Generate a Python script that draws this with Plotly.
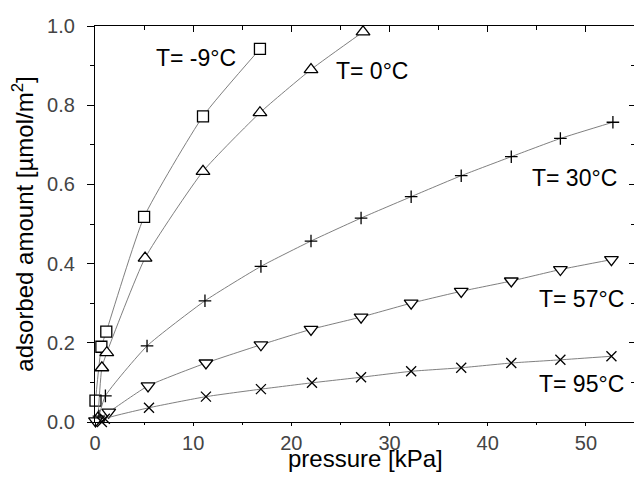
import plotly.graph_objects as go

# ---- data ----
p_m9 = [0.05, 0.65, 1.15, 5.0, 11.0, 16.8]
a_m9 = [0.054, 0.19, 0.228, 0.518, 0.772, 0.942]

p_0 = [0.3, 0.7, 1.2, 5.1, 11.0, 16.8, 22.0, 27.3]
a_0 = [0.01, 0.137, 0.175, 0.414, 0.633, 0.781, 0.89, 0.985]

p_30 = [0.4, 1.06, 5.3, 11.2, 16.9, 22.0, 27.1, 32.2, 37.3, 42.4, 47.4, 52.75]
a_30 = [0.015, 0.066, 0.192, 0.306, 0.393, 0.457, 0.515, 0.569, 0.622, 0.670, 0.716, 0.757]

p_57 = [0.05, 1.4, 5.4, 11.3, 16.9, 22.0, 27.1, 32.2, 37.3, 42.4, 47.4, 52.6]
a_57 = [0.003, 0.025, 0.091, 0.149, 0.195, 0.234, 0.265, 0.300, 0.330, 0.356, 0.385, 0.410]

p_95 = [0.7, 1.0, 5.5, 11.3, 16.9, 22.1, 27.1, 32.2, 37.3, 42.4, 47.4, 52.6]
a_95 = [0.0, 0.008, 0.036, 0.064, 0.083, 0.099, 0.113, 0.128, 0.137, 0.149, 0.157, 0.166]

series = [
    ("T= -9°C", p_m9, a_m9, "square", "white", 11),
    ("T= 0°C", p_0, a_0, "triangle-up", "white", 12),
    ("T= 30°C", p_30, a_30, "cross-thin-open", "black", 9),
    ("T= 57°C", p_57, a_57, "triangle-down", "white", 12),
    ("T= 95°C", p_95, a_95, "x-thin-open", "black", 10),
]

labels = ["T= -9°C", "T= 0°C", "T= 30°C", "T= 57°C", "T= 95°C"]
label_x = [10.3, 28.2, 48.85, 49.5, 49.5]
label_y = [0.918, 0.886, 0.617, 0.31, 0.095]

x_title = "pressure [kPa]"
y_title = "adsorbed amount [µmol/m<sup>2</sup>]"

FONT = "Liberation Sans, Arial, sans-serif"
TICKFONT = "Liberation Sans Narrow, Arial Narrow, Liberation Sans, sans-serif"

fig = go.Figure()
for name, xs, ys, sym, fill, sz in series:
    fig.add_trace(go.Scatter(
        x=xs, y=ys, mode="lines+markers", name=name,
        line=dict(color="#707070", width=0.9, shape="spline", smoothing=0.5),
        marker=dict(symbol=sym, size=sz, color=fill,
                    line=dict(color="black", width=1.3)),
        cliponaxis=False, showlegend=False,
    ))

# invisible trace so the mirrored (top/right) axes are drawn
fig.add_trace(go.Scatter(x=p_m9[:1], y=a_m9[:1], xaxis="x2", yaxis="y2",
                         mode="markers", marker=dict(opacity=0),
                         showlegend=False, hoverinfo="skip"))

for t, xx, yy in zip(labels, label_x, label_y):
    fig.add_annotation(x=xx, y=yy, xref="x", yref="y", text=t,
                       showarrow=False,
                       font=dict(family=FONT, size=23, color="black"))

# x-axis title placed as an annotation just below the tick labels
fig.add_annotation(x=0.5, y=0, xref="paper", yref="paper", text=x_title,
                   showarrow=False, xanchor="center", yanchor="top",
                   yshift=-21, font=dict(family=FONT, size=24, color="black"))

axis_common = dict(showline=True, linecolor="black", linewidth=1.2,
                   showgrid=False, zeroline=False,
                   tickwidth=1, tickcolor="black")

# page body has an 8px margin, so the figure is sized to fit the window
fig.update_layout(
    width=634, height=478,
    margin=dict(l=87, r=7, t=11, b=64),
    paper_bgcolor="white", plot_bgcolor="white",
    font=dict(family=FONT, color="black"),
    xaxis=dict(range=[0, 55], dtick=10, tick0=0, ticks="outside",
               ticklen=3,
               minor=dict(dtick=5, ticks="outside", ticklen=2,
                          tickcolor="black"),
               tickfont=dict(family=TICKFONT, size=20, color="#444"),
               automargin=False,
               **axis_common),
    yaxis=dict(range=[0, 1.0], dtick=0.2, tick0=0, ticks="outside",
               ticklen=7, tickformat=".1f",
               minor=dict(dtick=0.1, ticks="outside", ticklen=4,
                          tickcolor="black"),
               tickfont=dict(family=TICKFONT, size=20, color="#444"),
               ticklabelstandoff=8,
               title=dict(text=y_title, font=dict(size=24), standoff=6),
               automargin=True,
               **axis_common),
    xaxis2=dict(overlaying="x", side="top", range=[0, 55], dtick=10,
                tick0=0, ticks="inside", ticklen=6, showticklabels=False,
                minor=dict(dtick=5, ticks="inside", ticklen=4,
                           tickcolor="black"),
                automargin=False,
                **axis_common),
    yaxis2=dict(overlaying="y", side="right", range=[0, 1.0], dtick=0.2,
                tick0=0, ticks="inside", ticklen=6, showticklabels=False,
                minor=dict(dtick=0.1, ticks="inside", ticklen=4,
                           tickcolor="black"),
                automargin=False,
                **axis_common),
)

fig.write_html("out.html")
